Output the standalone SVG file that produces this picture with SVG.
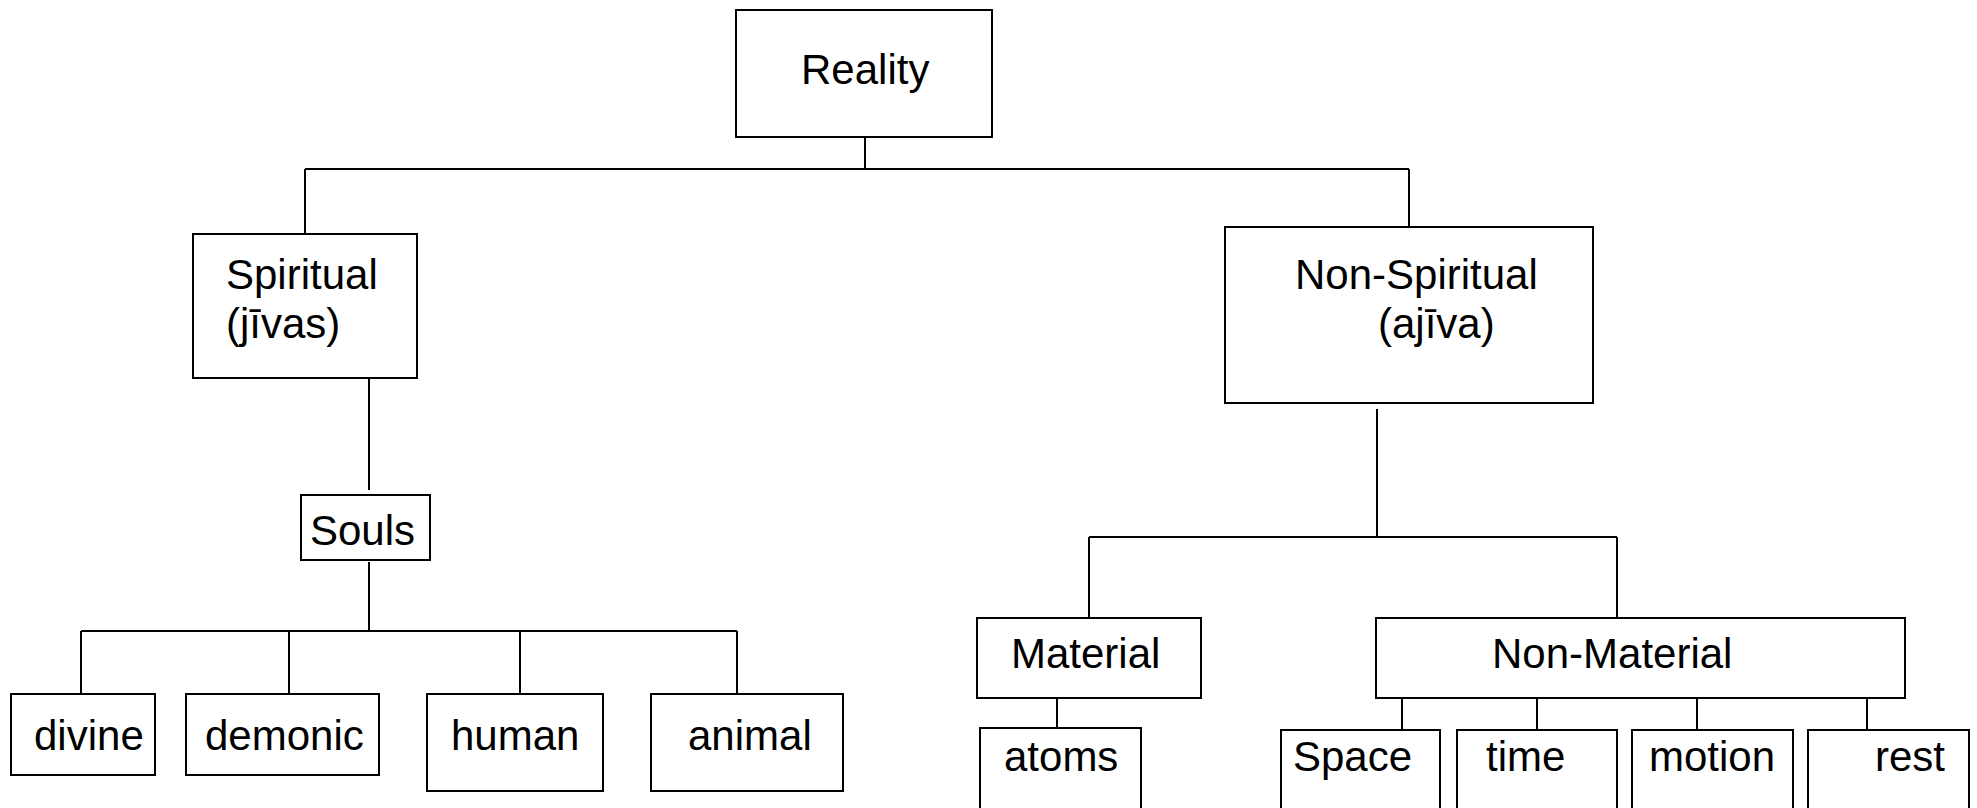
<svg xmlns="http://www.w3.org/2000/svg" width="1977" height="808" viewBox="0 0 1977 808">
  <style>
    .box { fill: #ffffff; stroke: #000000; stroke-width: 2; }
    .lbl { font-family: "Liberation Sans", Arial, sans-serif; font-size: 42px; fill: #000000; }
    .wire { fill: none; stroke: #000000; stroke-width: 2; }
  </style>
  <rect x="0" y="0" width="1977" height="808" fill="#ffffff"/>

  <!-- tree connectors -->
  <g id="connectors" class="wire">
    <path d="M865,137 V169"/>
    <path d="M305,169 H1409"/>
    <path d="M305,169 V234"/>
    <path d="M1409,169 V234"/>
    <path d="M369,378 V490"/>
    <path d="M369,562 V631"/>
    <path d="M81,631 H737"/>
    <path d="M81,631 V694"/>
    <path d="M289,631 V694"/>
    <path d="M520,631 V694"/>
    <path d="M737,631 V694"/>
    <path d="M1377,409 V537"/>
    <path d="M1089,537 H1617"/>
    <path d="M1089,537 V618"/>
    <path d="M1617,537 V618"/>
    <path d="M1057,698 V730"/>
    <path d="M1402,698 V730"/>
    <path d="M1537,698 V730"/>
    <path d="M1697,698 V730"/>
    <path d="M1867,698 V730"/>
  </g>

  <g id="reality">
    <rect class="box" x="736" y="10" width="256" height="127"/>
    <text class="lbl" x="801" y="84">Reality</text>
  </g>

  <g id="spiritual">
    <rect class="box" x="193" y="234" width="224" height="144"/>
    <text class="lbl" x="226" y="289">Spiritual</text>
    <text class="lbl" x="226" y="338">(jīvas)</text>
  </g>

  <g id="souls">
    <rect class="box" x="301" y="495" width="129" height="65"/>
    <text class="lbl" x="310" y="545">Souls</text>
  </g>

  <g id="divine">
    <rect class="box" x="11" y="694" width="144" height="81"/>
    <text class="lbl" x="34" y="750">divine</text>
  </g>

  <g id="demonic">
    <rect class="box" x="186" y="694" width="193" height="81"/>
    <text class="lbl" x="205" y="750">demonic</text>
  </g>

  <g id="human">
    <rect class="box" x="427" y="694" width="176" height="97"/>
    <text class="lbl" x="451" y="750">human</text>
  </g>

  <g id="animal">
    <rect class="box" x="651" y="694" width="192" height="97"/>
    <text class="lbl" x="688" y="750">animal</text>
  </g>

  <g id="non-spiritual">
    <rect class="box" x="1225" y="227" width="368" height="176"/>
    <text class="lbl" x="1295" y="289">Non-Spiritual</text>
    <text class="lbl" x="1378" y="338">(ajīva)</text>
  </g>

  <g id="material">
    <rect class="box" x="977" y="618" width="224" height="80"/>
    <text class="lbl" x="1011" y="668">Material</text>
  </g>

  <g id="non-material">
    <rect class="box" x="1376" y="618" width="529" height="80"/>
    <text class="lbl" x="1492" y="668">Non-Material</text>
  </g>

  <g id="atoms">
    <rect class="box" x="980" y="728" width="161" height="100"/>
    <text class="lbl" x="1004" y="771">atoms</text>
  </g>

  <g id="space">
    <rect class="box" x="1281" y="730" width="159" height="100"/>
    <text class="lbl" x="1293" y="771">Space</text>
  </g>

  <g id="time">
    <rect class="box" x="1457" y="730" width="160" height="100"/>
    <text class="lbl" x="1486" y="771">time</text>
  </g>

  <g id="motion">
    <rect class="box" x="1632" y="730" width="161" height="100"/>
    <text class="lbl" x="1649" y="771">motion</text>
  </g>

  <g id="rest">
    <rect class="box" x="1808" y="730" width="161" height="100"/>
    <text class="lbl" x="1875" y="771">rest</text>
  </g>
</svg>
